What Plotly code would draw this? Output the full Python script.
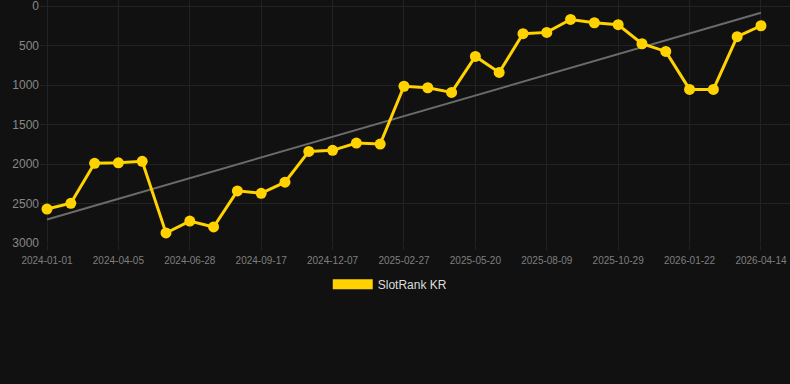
import numpy as np
import plotly.graph_objects as go

dates = [
    "2024-01-01", "2024-02-02", "2024-03-04", "2024-04-05", "2024-05-03", "2024-05-31",
    "2024-06-28", "2024-07-25", "2024-08-21", "2024-09-17", "2024-10-14", "2024-11-10",
    "2024-12-07", "2025-01-03", "2025-01-31", "2025-02-27", "2025-03-26", "2025-04-23",
    "2025-05-20", "2025-06-16", "2025-07-13", "2025-08-09", "2025-09-05", "2025-10-02",
    "2025-10-29", "2025-11-25", "2025-12-24", "2026-01-22", "2026-02-18", "2026-03-18",
    "2026-04-14",
]
ranks = [
    2570, 2497, 1991, 1985, 1966, 2873, 2722, 2797, 2340, 2371, 2230,
    1840, 1827, 1734, 1747, 1015, 1034, 1093, 637, 840, 350, 333,
    169, 211, 236, 477, 574, 1055, 1055, 388, 249,
]
tick_labels = dates[::3]
y_ticks = [0, 500, 1000, 1500, 2000, 2500, 3000]
series_name = "SlotRank KR"

idx = np.arange(len(ranks))
slope, intercept = np.polyfit(idx, ranks, 1)
trend = slope * idx + intercept

gold = "#FFD200"
fig = go.Figure()
fig.add_trace(go.Scatter(
    x=dates, y=trend, mode="lines",
    line=dict(color="#6b6b6b", width=2), showlegend=False, hoverinfo="skip",
))
fig.add_trace(go.Scatter(
    x=dates, y=ranks, mode="lines+markers",
    line=dict(color=gold, width=3), marker=dict(color=gold, size=11),
    showlegend=False, name=series_name,
))
fig.add_trace(go.Scatter(
    x=[None], y=[None], mode="lines", name=series_name,
    line=dict(color=gold, width=11), showlegend=True,
))

fig.update_layout(
    width=790, height=384,
    margin=dict(l=40, r=0, t=0, b=141),
    paper_bgcolor="#111111", plot_bgcolor="#111111",
    font=dict(family="Liberation Sans, Arial, sans-serif", color="#888888"),
    legend=dict(
        orientation="h", x=0.467, xanchor="center", y=-0.17, yanchor="middle",
        font=dict(size=12, color="#dddddd"), itemwidth=40, bgcolor="rgba(0,0,0,0)",
    ),
)
fig.update_xaxes(
    type="category", categoryorder="array", categoryarray=dates,
    range=[-0.294, 31.22],
    tickmode="array", tickvals=tick_labels, ticktext=tick_labels,
    tickfont=dict(size=10, color="#7f7f7f"), ticklabelstandoff=2,
    showgrid=True, gridcolor="#222222", gridwidth=1,
    ticks="outside", ticklen=6, tickcolor="#222222",
    showline=False, zeroline=False,
)
fig.update_yaxes(
    range=[3000, -77], tickmode="array", tickvals=y_ticks,
    tickfont=dict(size=12, color="#888888"), ticklabeloverflow="allow",
    showgrid=True, gridcolor="#222222", gridwidth=1,
    zeroline=False, showline=False, ticks="",
)
fig.write_html("out.html")
